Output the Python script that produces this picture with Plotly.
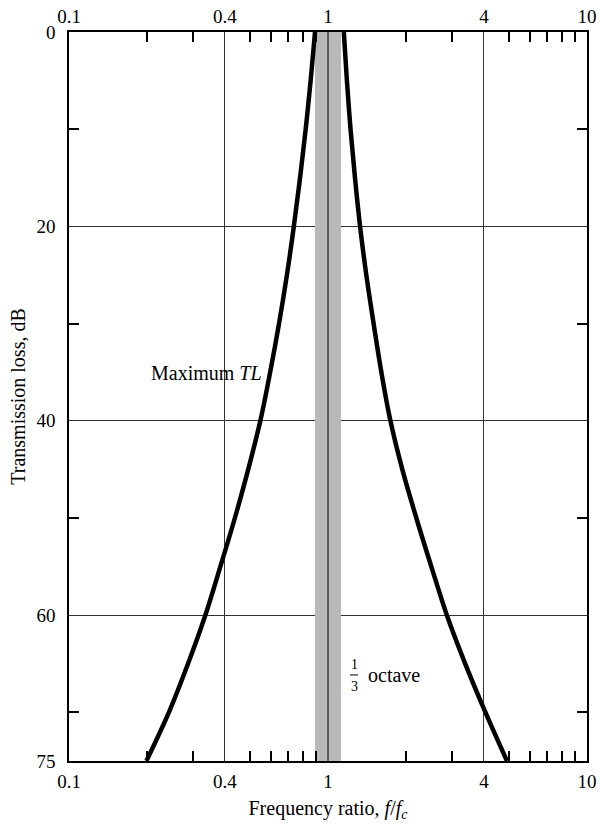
import plotly.graph_objects as go

# ---- data ----
tl_db = [0, 5, 10, 15, 20, 25, 30, 35, 40, 45, 50, 55, 60, 65, 70, 75]
left_ratio = [0.891, 0.857, 0.820, 0.780, 0.738, 0.694, 0.647, 0.598, 0.548, 0.492,
              0.437, 0.384, 0.336, 0.288, 0.243, 0.199]
right_ratio = [1.151, 1.183, 1.222, 1.271, 1.330, 1.406, 1.500, 1.607, 1.742, 1.936,
               2.193, 2.506, 2.877, 3.388, 4.055, 4.909]

band_lo, band_hi = 0.891, 1.122          # one-third octave band around f/fc = 1
band_db = [0, 75]

x_major = [0.1, 0.4, 1, 4, 10]
x_major_text = ["0.1", "0.4", "1", "4", "10"]
x_minor = [0.2, 0.3, 0.5, 0.6, 0.7, 0.8, 0.9, 2, 3, 5, 6, 7, 8, 9]
y_major = [0, 20, 40, 60, 75]
y_minor = [10, 30, 50, 70]

FONT = "Liberation Serif, Times New Roman, serif"
TICK_SIZE = 19
TEXT_SIZE = 20
fig = go.Figure()

# shaded 1/3-octave band
fig.add_trace(go.Scatter(
    x=[band_lo, band_hi, band_hi, band_lo, band_lo],
    y=[band_db[0], band_db[0], band_db[1], band_db[1], band_db[0]],
    fill="toself", fillcolor="#b9b9b9", line=dict(width=0),
    mode="lines", hoverinfo="skip", showlegend=False))

# centre line at f/fc = 1 (inside band)
fig.add_trace(go.Scatter(x=[1, 1], y=band_db, mode="lines",
                         line=dict(color="#222222", width=1.2),
                         showlegend=False, hoverinfo="skip"))

# maximum TL curve
for xr in (left_ratio, right_ratio):
    fig.add_trace(go.Scatter(x=xr, y=tl_db, mode="lines",
                             line=dict(color="black", width=4.5, shape="spline", smoothing=1.0),
                             showlegend=False))

# invisible trace on top axis
fig.add_trace(go.Scatter(x=[1], y=[0], xaxis="x2", mode="markers",
                         marker=dict(opacity=0), showlegend=False, hoverinfo="skip"))

axis_common = dict(
    type="log", range=[-1, 1], automargin=False,
    tickmode="array", tickvals=x_major, ticktext=x_major_text,
    ticks="inside", ticklen=0, tickcolor="black",
    showline=True, linecolor="black", linewidth=1.6,
    tickfont=dict(family=FONT, size=TICK_SIZE, color="black"),
    minor=dict(tickmode="array", tickvals=x_minor, ticks="inside", ticklen=10,
               tickwidth=1.5, tickcolor="black", showgrid=False),
    zeroline=False,
)

fig.update_layout(
    width=600, height=827,
    margin=dict(l=69, r=13, t=32, b=66),
    paper_bgcolor="white", plot_bgcolor="white",
    font=dict(family=FONT, color="black"),
    xaxis=dict(**axis_common, showgrid=True, gridcolor="#333333", gridwidth=1,
               ticklabelstandoff=2,
               title=dict(text="Frequency ratio, <i>f</i>/<i>f</i><sub><i>c</i></sub>",
                          font=dict(family=FONT, size=TEXT_SIZE, color="black"), standoff=10)),
    xaxis2=dict(**axis_common, overlaying="x", side="top", matches="x",
                showgrid=False, ticklabelstandoff=0),
    yaxis=dict(
        range=[75, 0], tickmode="array", tickvals=y_major, automargin=False,
        ticks="inside", ticklen=0, tickcolor="black",
        showline=True, linecolor="black", linewidth=1.6, mirror="allticks",
        showgrid=True, gridcolor="#333333", gridwidth=1, zeroline=False,
        tickfont=dict(family=FONT, size=TICK_SIZE, color="black"),
        ticklabelstandoff=8,
        minor=dict(tickmode="array", tickvals=y_minor, ticks="inside", ticklen=10,
                   tickwidth=1.5, tickcolor="black", showgrid=False),
        title=dict(text="Transmission loss, dB",
                   font=dict(family=FONT, size=TEXT_SIZE, color="black"), standoff=5),
    ),
)

# text labels
fig.add_annotation(xref="paper", yref="y", x=(264 - 69) / 518, y=35.1,
                   text="Maximum <i>TL</i>", showarrow=False, xanchor="right",
                   font=dict(family=FONT, size=TEXT_SIZE, color="black"))
fig.add_annotation(xref="paper", yref="y", x=(354 - 69) / 518, y=65.1,
                   text="1", showarrow=False, xanchor="center", yanchor="middle",
                   font=dict(family=FONT, size=14, color="black"))
fig.add_annotation(xref="paper", yref="y", x=(354 - 69) / 518, y=67.3,
                   text="3", showarrow=False, xanchor="center", yanchor="middle",
                   font=dict(family=FONT, size=14, color="black"))
fig.add_shape(type="line", xref="paper", yref="y",
              x0=(350 - 69) / 518, x1=(358 - 69) / 518, y0=66.15, y1=66.15,
              line=dict(color="black", width=1))
fig.add_annotation(xref="paper", yref="y", x=(366 - 69) / 518, y=66.2,
                   text="octave", showarrow=False, xanchor="left", yanchor="middle",
                   font=dict(family=FONT, size=TEXT_SIZE, color="black"))

fig.write_html("out.html")
